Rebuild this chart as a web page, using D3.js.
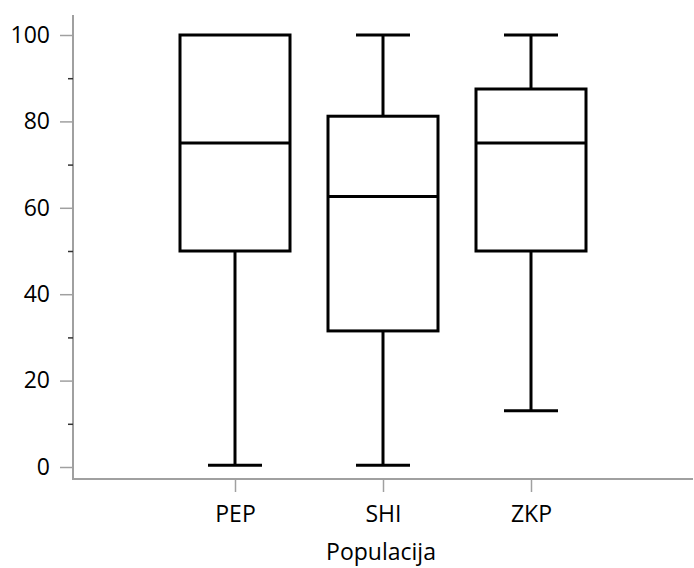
<!DOCTYPE html>
<html><head><meta charset="utf-8">
<script src="https://cdn.jsdelivr.net/npm/d3@7"></script>
<style>body{margin:0;background:#fff}svg{display:block}</style>
</head><body>
<script>
const categories = ["PEP", "SHI", "ZKP"];
const mins    = [0.4, 0.4, 13.0];
const q1s     = [50, 31.5, 50];
const medians = [75, 62.6, 75];
const q3s     = [100, 81.2, 87.5];
const maxs    = [100, 100, 100];
const yTicks  = [0, 20, 40, 60, 80, 100];
const yMinorTicks = [10, 30, 50, 70, 90];
const xTitle = "Populacija";

const W = 694, H = 568;
const svg = d3.select("body").append("svg").attr("width", W).attr("height", H);
const font = "'Open Sans', Lato, sans-serif";
const fs = 23;

const y = d3.scaleLinear().domain([0, 100]).range([467, 35]);
const x = d3.scalePoint().domain(categories).range([235, 531]);
const axisY = 479, axisX = 73;

svg.append("line").attr("x1", axisX).attr("x2", axisX).attr("y1", 15).attr("y2", axisY)
  .attr("stroke", "#a0a0a0").attr("stroke-width", 2);
svg.append("line").attr("x1", axisX - 1).attr("x2", 693).attr("y1", axisY).attr("y2", axisY)
  .attr("stroke", "#a0a0a0").attr("stroke-width", 2);

const yAxis = d3.axisLeft(y).tickValues(yTicks).tickSize(13).tickPadding(10).tickFormat(d3.format("d"));
const gy = svg.append("g").attr("transform", `translate(${axisX},0)`).call(yAxis);
gy.select(".domain").remove();
gy.selectAll(".tick line").attr("stroke", "#a0a0a0").attr("stroke-width", 1.5);
gy.selectAll(".tick text").attr("font-family", font).attr("font-size", fs).attr("fill", "#000");
const yMinor = d3.axisLeft(y).tickValues(yMinorTicks).tickSize(5).tickFormat("");
const gym = svg.append("g").attr("transform", `translate(${axisX},0)`).call(yMinor);
gym.select(".domain").remove();
gym.selectAll(".tick line").attr("stroke", "#333").attr("stroke-width", 1.5);

const xAxis = d3.axisBottom(x).tickSize(13).tickPadding(14);
const gx = svg.append("g").attr("transform", `translate(0,${axisY})`).call(xAxis);
gx.select(".domain").remove();
gx.selectAll(".tick line").attr("stroke", "#a0a0a0").attr("stroke-width", 1.5);
gx.selectAll(".tick text").attr("font-family", font).attr("font-size", fs).attr("fill", "#000");

svg.append("text").attr("x", 381).attr("y", 560).attr("text-anchor", "middle")
  .attr("font-family", font).attr("font-size", fs).attr("fill", "#000").text(xTitle);

const boxW = 110, capW = 54;
const data = categories.map((c, i) => ({c, min: mins[i], q1: q1s[i], med: medians[i], q3: q3s[i], max: maxs[i]}));
const g = svg.append("g").attr("stroke", "#000").attr("stroke-width", 3).attr("fill", "none");
data.forEach(d => {
  const cx = x(d.c);
  g.append("line").attr("x1", cx).attr("x2", cx).attr("y1", y(d.q3)).attr("y2", y(d.max));
  g.append("line").attr("x1", cx).attr("x2", cx).attr("y1", y(d.q1)).attr("y2", y(d.min));
  if (d.max > d.q3) g.append("line").attr("x1", cx - capW/2).attr("x2", cx + capW/2).attr("y1", y(d.max)).attr("y2", y(d.max));
  g.append("line").attr("x1", cx - capW/2).attr("x2", cx + capW/2).attr("y1", y(d.min)).attr("y2", y(d.min));
  g.append("rect").attr("x", cx - boxW/2).attr("width", boxW)
    .attr("y", y(d.q3)).attr("height", y(d.q1) - y(d.q3)).attr("fill", "#fff");
  g.append("line").attr("x1", cx - boxW/2).attr("x2", cx + boxW/2).attr("y1", y(d.med)).attr("y2", y(d.med));
});
</script>
</body></html>
